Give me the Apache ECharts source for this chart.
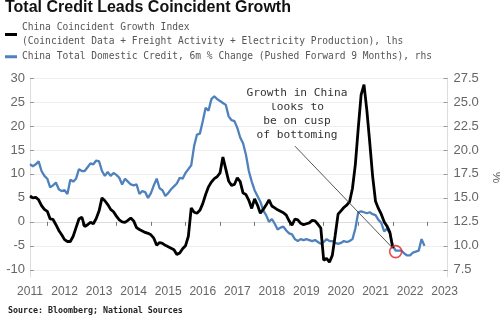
<!DOCTYPE html>
<html>
<head>
<meta charset="utf-8">
<script src="https://cdn.jsdelivr.net/npm/echarts@6/dist/echarts.min.js"></script>
<style>
  html, body { margin: 0; padding: 0; background: #fff; }
  #chart { width: 500px; height: 324px; }
</style>
</head>
<body>
<div id="chart"></div>
<script>
// Monthly category axis, Jul 2011 .. Aug 2023
const START_YEAR = 2011, START_MONTH = 7, END_YEAR = 2023, END_MONTH = 8;
const months = [];
for (let y = START_YEAR, m = START_MONTH; y < END_YEAR || (y === END_YEAR && m <= END_MONTH);) {
  months.push(y + '-' + String(m).padStart(2, '0'));
  m++;
  if (m > 12) { m = 1; y++; }
}

// Tick labels for both value axes
const leftTicks = [-10, -5, 0, 5, 10, 15, 20, 25, 30];
const rightTicks = [7.5, 10, 12.5, 15, 17.5, 20, 22.5, 25, 27.5];

// China Coincident Growth Index (lhs), Jul 2011 .. Jan 2022
const coincidentGrowth = [
  5.4, 5.0, 5.1, 4.6, 3.4, 2.6,
  2.2, 0.6, 0.5, -0.6, -1.8, -2.7, -3.7, -4.1, -4.1, -3.0, -1.2, 0.6,
  1.0, -1.0, -0.6, -0.1, -0.4, 0.7, 2.3, 5.0, 4.4, 3.6, 2.6, 2.1,
  1.2, 0.4, 0.0, -0.1, 0.3, 0.8, 0.2, -1.2, -1.6, -1.9, -2.2, -2.4,
  -2.7, -3.4, -4.9, -4.3, -4.5, -4.9, -5.2, -5.5, -5.8, -6.8, -6.5, -5.6,
  -5.0, -3.0, 2.9, 2.0, 1.8, 2.4, 3.8, 5.7, 7.3, 8.3, 9.0, 9.4,
  10.2, 13.5, 11.0, 8.5, 7.6, 7.8, 9.2, 8.4, 6.0, 5.7, 4.5, 2.8,
  4.8, 3.5, 1.8, 2.6, 3.5, 4.6, 3.3, 2.9, 2.5, 2.2, 1.9, 1.4,
  0.2, -0.7, 0.6, 0.4, -0.3, -0.6, -0.4, -0.2, 0.3, 0.2, -0.5, -1.3,
  -8.0, -7.6, -8.4, -7.0, -2.8, 1.6, 2.3, 3.0, 3.5, 4.2, 7.0, 12.0,
  19.5, 26.5, 28.6, 23.2, 16.5, 9.5, 4.3, 2.8, 1.6, 0.0, -0.9, -2.2,
  -5.5
];

// China Total Domestic Credit, 6m % change, pushed forward 9 months (rhs), Jul 2011 .. Dec 2022
const domesticCredit6m = [
  18.5, 18.3, 18.5, 18.8, 17.8, 17.3,
  17.0, 16.1, 16.3, 16.6, 15.9, 15.7, 15.8, 15.4, 16.9, 16.7, 17.0, 18.0,
  17.8, 17.8, 18.2, 18.6, 18.5, 18.9, 18.8, 17.8, 17.3, 17.7, 17.3, 17.6,
  17.4, 17.1, 16.4, 17.0, 16.7, 16.4, 16.3, 16.4, 15.4, 15.7, 15.6, 15.0,
  15.5, 16.3, 17.0, 16.0, 15.8, 15.2, 15.5, 15.9, 16.2, 16.5, 17.1, 17.0,
  17.6, 18.0, 18.4, 20.4, 21.6, 21.7, 23.0, 24.4, 24.1, 25.3, 25.6, 25.3,
  25.1, 24.9, 24.7, 23.5, 23.1, 23.0, 22.3, 21.3, 20.7, 19.5, 17.8, 16.7,
  15.8, 15.2, 14.6, 13.7, 13.2, 12.5, 12.8, 12.3, 11.7, 11.9, 12.0, 11.6,
  11.3, 11.2, 10.7, 10.5, 10.7, 10.6, 10.7, 10.6, 10.5, 10.6, 10.4, 10.2,
  10.4, 10.7, 10.5, 10.5, 10.3, 10.2, 10.3, 10.5, 10.4, 10.5, 10.7, 11.8,
  13.5, 13.6, 13.5, 13.4, 13.5, 13.3, 13.2, 12.7, 12.4, 11.5, 11.8, 11.3,
  10.0, 9.5, 9.5, 9.5, 9.2, 9.0, 9.0, 9.3, 9.4, 9.5, 10.7, 10.0
];

// Callout: highlighted point and leader line (lhs units)
const highlightPoint = [['2022-02', -6.2]];
const calloutFrom = ['2019-03', 15.8];
const calloutTo = ['2022-01', -5.5];

const growthName = 'China Coincident Growth Index\n(Coincident Data + Freight Activity + Electricity Production), lhs';
const creditName = 'China Total Domestic Credit, 6m % Change (Pushed Forward 9 Months), rhs';

const AXIS_FONT = '"Liberation Sans", Arial, sans-serif';
const MONO_FONT = '"DejaVu Sans Mono", "Liberation Mono", monospace';

const chart = echarts.init(document.getElementById('chart'), null, { renderer: 'canvas' });

chart.setOption({
  animation: false,
  backgroundColor: '#fff',
  grid: { left: 30, right: 52.5, top: 78, bottom: 47, containLabel: false, outerBoundsMode: 'none' },
  legend: {
    orient: 'vertical',
    left: 5,
    top: 21,
    itemGap: 2,
    itemWidth: 12,
    itemHeight: 3,
    icon: 'rect',
    selectedMode: false,
    padding: 0,
    textStyle: { fontFamily: MONO_FONT, fontSize: 9.6, color: '#555', lineHeight: 13.5 },
    data: [growthName, creditName]
  },
  xAxis: {
    type: 'category',
    data: months,
    boundaryGap: false,
    axisLine: { show: true, lineStyle: { color: '#ddd', width: 1 } },
    axisTick: {
      show: true,
      length: 4,
      lineStyle: { color: '#777' },
      interval: (i, v) => v.endsWith('-01')
    },
    axisLabel: {
      interval: (i, v) => v.endsWith('-07'),
      formatter: v => v.slice(0, 4),
      fontFamily: AXIS_FONT,
      fontSize: 12,
      color: '#666',
      margin: 9
    },
    splitLine: { show: false }
  },
  yAxis: [
    {
      type: 'value',
      min: -11.5,
      max: 30,
      position: 'left',
      axisLine: { show: true, lineStyle: { color: '#ddd' } },
      axisTick: { show: true, inside: true, length: 4, lineStyle: { color: '#999' }, customValues: leftTicks },
      axisLabel: { customValues: leftTicks, fontFamily: AXIS_FONT, fontSize: 13, color: '#666', margin: 5 },
      splitLine: { show: true, lineStyle: { color: '#eee', width: 1 } }
    },
    {
      type: 'value',
      min: 6.75,
      max: 27.5,
      position: 'right',
      name: '%',
      nameLocation: 'middle',
      nameGap: 38,
      nameRotate: -90,
      nameTextStyle: { fontFamily: AXIS_FONT, fontSize: 13, color: '#666' },
      axisLine: { show: true, lineStyle: { color: '#ddd' } },
      axisTick: { show: true, inside: true, length: 4, lineStyle: { color: '#999' }, customValues: rightTicks },
      axisLabel: {
        customValues: rightTicks,
        formatter: v => v.toFixed(1),
        fontFamily: AXIS_FONT, fontSize: 13, color: '#666', margin: 6
      },
      splitLine: { show: false }
    }
  ],
  series: [
    {
      name: creditName,
      type: 'line',
      yAxisIndex: 1,
      data: domesticCredit6m,
      showSymbol: false,
      color: '#4f81bd',
      lineStyle: { color: '#4f81bd', width: 2.3 },
      z: 2
    },
    {
      name: growthName,
      type: 'line',
      yAxisIndex: 0,
      data: coincidentGrowth,
      showSymbol: false,
      color: '#000',
      lineStyle: { color: '#000', width: 2.8 },
      z: 3,
      markLine: {
        silent: true,
        symbol: ['none', 'none'],
        label: { show: false },
        lineStyle: { color: '#444', width: 0.9, type: 'solid' },
        data: [[{ coord: calloutFrom }, { coord: calloutTo }]]
      }
    },
    {
      name: 'highlight',
      type: 'scatter',
      yAxisIndex: 0,
      data: highlightPoint,
      symbol: 'circle',
      symbolSize: 12,
      itemStyle: { color: 'rgba(0,0,0,0)', borderColor: '#e0202a', borderWidth: 1.6 },
      z: 5
    }
  ],
  graphic: [
    {
      type: 'text', left: 5, top: 0,
      style: { text: 'Total Credit Leads Coincident Growth', font: 'bold 16px ' + AXIS_FONT, fill: '#111' }
    },
    {
      type: 'text', x: 297, y: 86,
      style: {
        text: 'Growth in China\nlooks to\nbe on cusp\nof bottoming',
        font: '11.2px ' + MONO_FONT, fill: '#333', align: 'center', verticalAlign: 'top', lineHeight: 14
      }
    },
    {
      type: 'text', left: 8, top: 307,
      style: { text: 'Source: Bloomberg; National Sources', font: 'bold 8.3px ' + MONO_FONT, fill: '#222' }
    }
  ]
});
</script>
</body>
</html>
